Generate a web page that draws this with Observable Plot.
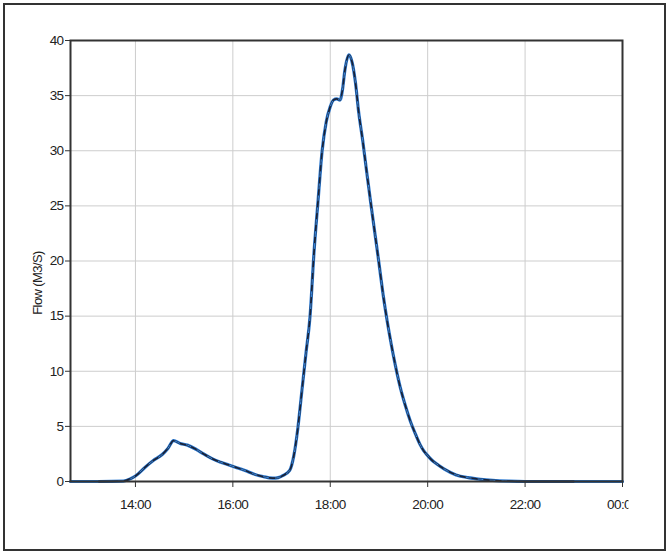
<!DOCTYPE html>
<html>
<head>
<meta charset="utf-8">
<script src="https://cdn.jsdelivr.net/npm/d3@7"></script>
<script src="https://cdn.jsdelivr.net/npm/@observablehq/plot@0.6"></script>
<style>
  html, body { margin: 0; padding: 0; background: #fff; }
  #wrap { position: relative; width: 669px; height: 553px; overflow: hidden; }
  #outer { position: absolute; left: 3px; top: 3px; width: 659px; height: 544px; border: 2px solid #333; pointer-events: none; }
</style>
</head>
<body>
<div id="wrap"><div id="chart"></div><div id="outer"></div></div>
<script>
// Observed flow (dark solid line)
const obsTimes = ["13:15","13:45","13:54","14:00","14:12","14:22","14:33","14:40","14:47","14:55","15:04","15:14","15:24","15:35","15:45","15:55","16:03","16:15","16:25","16:37","16:49","16:56","17:02","17:10","17:15","17:20","17:25","17:30","17:35","17:40","17:45","17:50","17:55","18:00","18:04","18:08","18:12","18:15","18:18","18:23","18:27","18:31","18:35","18:40","18:45","18:50","18:55","19:00","19:05","19:10","19:15","19:20","19:26","19:32","19:39","19:45","19:51","19:55","20:00","20:05","20:10","20:20","20:35","20:50","21:05","21:20","21:40","22:00","23:00"];
const obsFlow  = [0,0.03,0.25,0.5,1.3,1.9,2.45,3.0,3.7,3.45,3.3,2.95,2.5,2.05,1.75,1.5,1.3,1.0,0.7,0.45,0.3,0.35,0.55,1.0,2.3,4.8,8.2,11.6,14.9,20.8,25.5,30.0,32.6,34.0,34.6,34.7,34.6,35.5,37.3,38.7,38.0,36.2,33.5,30.9,28.0,25.2,22.5,19.8,17.0,14.6,12.5,10.6,8.6,7.0,5.4,4.3,3.3,2.8,2.35,1.95,1.65,1.15,0.6,0.35,0.2,0.1,0.03,0,0];
// Simulated flow (blue dashed line) – same hydrograph, extending over the full window
const simStartTimes = ["12:40"];
const simStartFlow = [0];
const simEndTimes = ["24:00"];
const simEndFlow = [0];

const xTicks = [14, 16, 18, 20, 22, 24];
const yTicks = [0, 5, 10, 15, 20, 25, 30, 35, 40];
const xDomain = ["12:40", "24:00"];
const yLabel = "Flow (M3/S)";

const toHours = s => { const [h, m] = s.split(":").map(Number); return h + m / 60; };
const fmt = h => String(h % 24).padStart(2, "0") + ":00";

const obs = obsTimes.map((t, i) => ({t: toHours(t), v: obsFlow[i]}));
const simFlowAll = [...simStartFlow, ...obsFlow, ...simEndFlow];
const sim = [...simStartTimes, ...obsTimes, ...simEndTimes].map((t, i) => ({t: toHours(t), v: simFlowAll[i]}));

const fontStack = "'Liberation Sans', Arial, sans-serif";

const chart = Plot.plot({
  width: 669, height: 553,
  marginLeft: 70, marginRight: 47, marginTop: 40, marginBottom: 72,
  style: {fontFamily: fontStack, fontSize: "13.5px", color: "#222", background: "white", letterSpacing: "-0.6px"},
  x: {domain: xDomain.map(toHours)},
  y: {domain: [0, 40]},
  marks: [
    Plot.gridX(xTicks, {stroke: "#cdcdcd", strokeOpacity: 1}),
    Plot.gridY(yTicks, {stroke: "#cdcdcd", strokeOpacity: 1}),
    Plot.line(sim, {x: "t", y: "v", stroke: "#2a78d0", strokeWidth: 3.2, curve: "monotone-x"}),
    Plot.line(obs, {x: "t", y: "v", stroke: "#1b2236", strokeWidth: 1.8, curve: "monotone-x"}),
    Plot.line(sim, {x: "t", y: "v", stroke: "#3d8be0", strokeWidth: 1, strokeDasharray: "5,7", curve: "monotone-x"}),
    Plot.frame({stroke: "#333", strokeWidth: 2}),
    Plot.axisX(xTicks, {tickFormat: fmt, tickSize: 6, tickPadding: 12, label: null, stroke: "#333"}),
    Plot.axisY(yTicks, {tickSize: 5, tickPadding: 2, label: null, stroke: "#333"}),
    Plot.text([yLabel], {frameAnchor: "left", textAnchor: "middle", rotate: -90, dx: -33, dy: 22, fontFamily: "'Liberation Sans', Arial, sans-serif", fontSize: 13, letterSpacing: "1.2px", fill: "#222"})
  ]
});
document.getElementById("chart").appendChild(chart);

// clip the right-most tick label as in the original (cut at the panel edge)
const ns = "http://www.w3.org/2000/svg";
const defs = document.createElementNS(ns, "defs");
const cp = document.createElementNS(ns, "clipPath");
cp.setAttribute("id", "xclip");
const r = document.createElementNS(ns, "rect");
r.setAttribute("x", 0); r.setAttribute("y", 0); r.setAttribute("width", 628); r.setAttribute("height", 553);
cp.appendChild(r); defs.appendChild(cp); chart.insertBefore(defs, chart.firstChild);
const xl = chart.querySelector('[aria-label="x-axis tick label"]');
if (xl) xl.setAttribute("clip-path", "url(#xclip)");
</script>
</body>
</html>
